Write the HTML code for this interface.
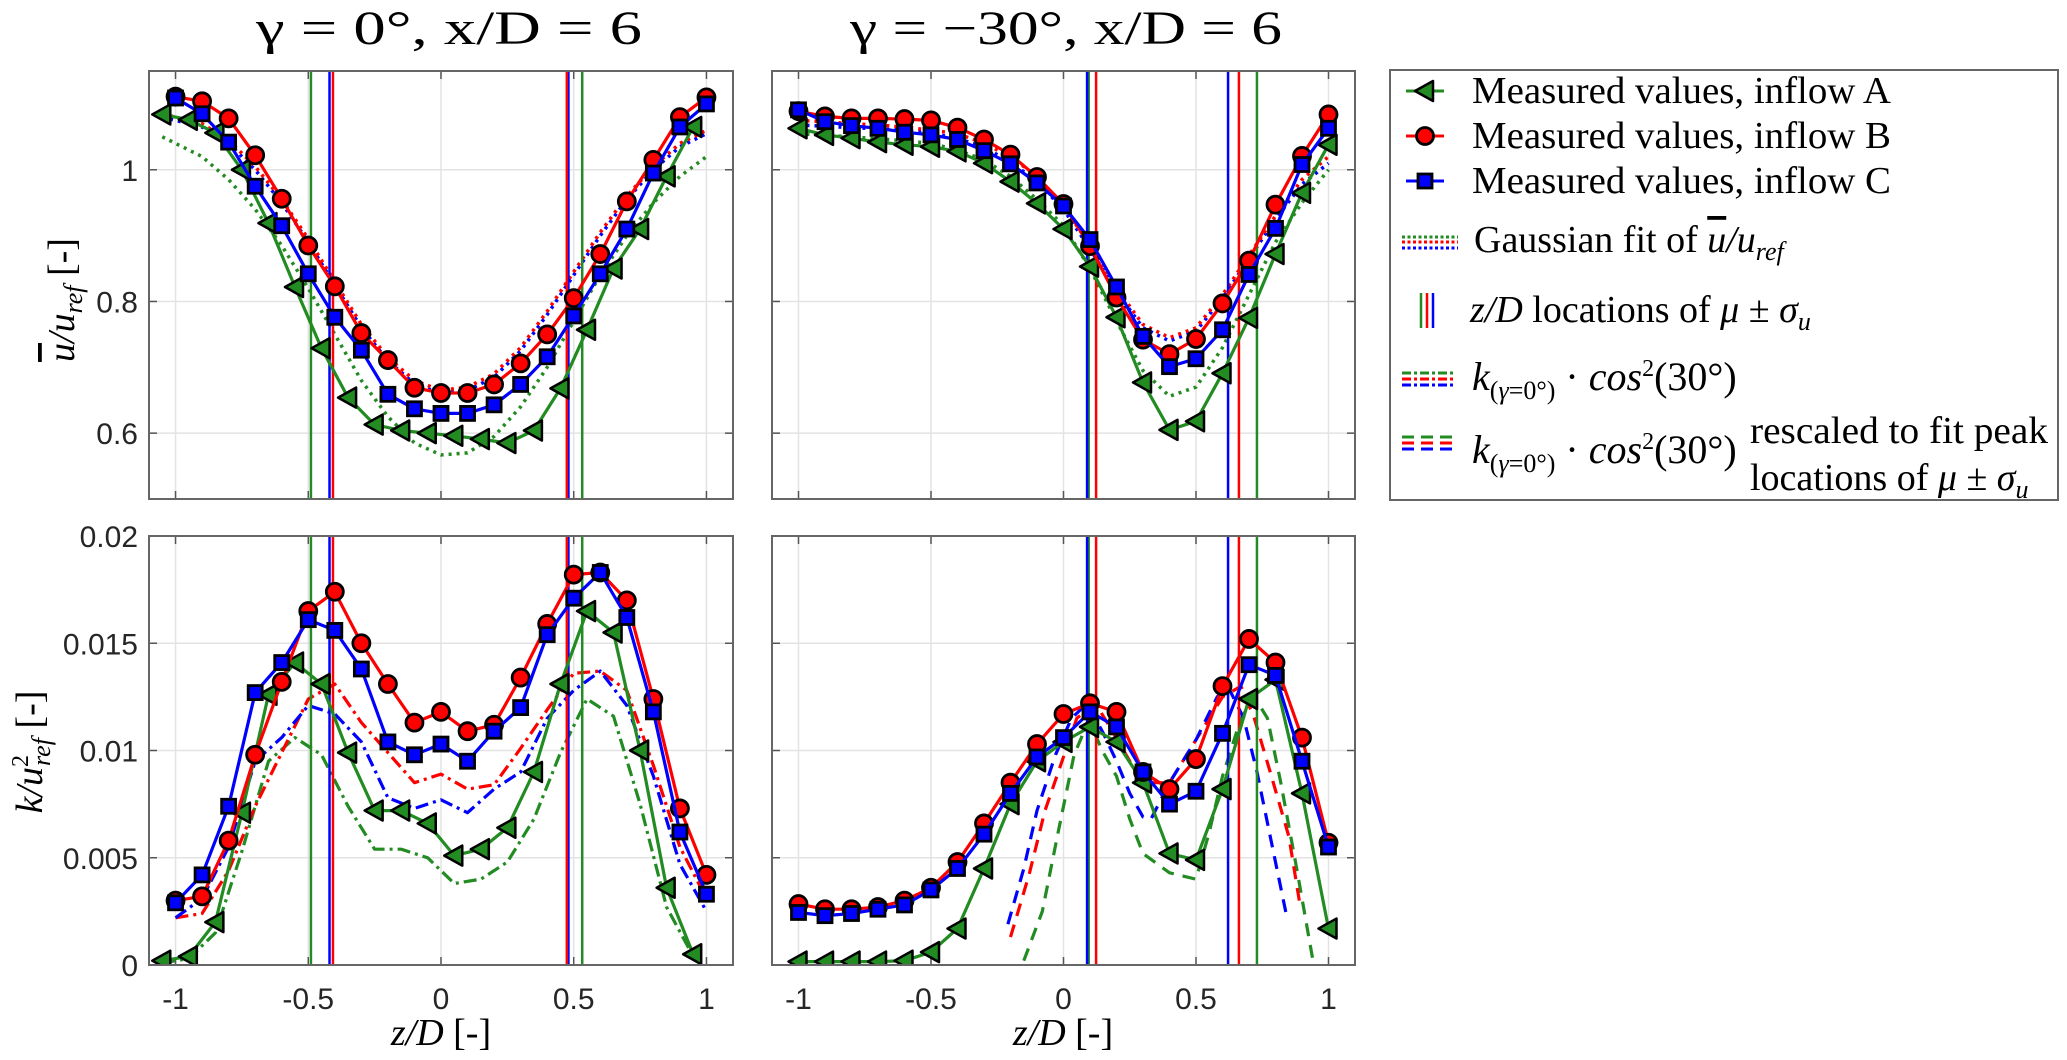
<!DOCTYPE html>
<html><head><meta charset="utf-8">
<style>
html,body{margin:0;padding:0;background:#fff;}
svg{display:block;}
.tick{font-family:"Liberation Sans",sans-serif;font-size:30px;fill:#262626;}
.ser{font-family:"Liberation Serif",serif;fill:#000;}
</style></head>
<body>
<svg id="fig" width="2067" height="1060" viewBox="0 0 2067 1060" xmlns="http://www.w3.org/2000/svg">
<text class="ser" x="449" y="44" font-size="48" text-anchor="middle" textLength="386" lengthAdjust="spacingAndGlyphs">γ = 0°,  x/D = 6</text>
<text class="ser" x="1066" y="44" font-size="48" text-anchor="middle" textLength="432" lengthAdjust="spacingAndGlyphs">γ = −30°,  x/D = 6</text>
<text class="ser" transform="translate(74,300) rotate(-90)" font-size="38" text-anchor="middle"><tspan font-style="italic" text-decoration="overline">u</tspan><tspan font-style="italic">/u</tspan><tspan font-style="italic" font-size="26" dy="8">ref</tspan><tspan dy="-8"> [-]</tspan></text>
<text class="ser" transform="translate(42,752) rotate(-90)" font-size="38" text-anchor="middle"><tspan font-style="italic">k/u</tspan><tspan font-size="24" dy="-14">2</tspan><tspan font-style="italic" font-size="26" dx="-11" dy="22">ref</tspan><tspan dy="-8"> [-]</tspan></text>
<text class="ser" x="441" y="1045" font-size="38" text-anchor="middle"><tspan font-style="italic">z/D</tspan> [-]</text>
<text class="ser" x="1063" y="1045" font-size="38" text-anchor="middle"><tspan font-style="italic">z/D</tspan> [-]</text>
<g id="legend"></g>
</svg>
<script>
// ---------- data ----------
const zB = [-1,-0.9,-0.8,-0.7,-0.6,-0.5,-0.4,-0.3,-0.2,-0.1,0,0.1,0.2,0.3,0.4,0.5,0.6,0.7,0.8,0.9,1];
const zA0 = [-1.05,-0.95,-0.85,-0.75,-0.65,-0.55,-0.45,-0.35,-0.25,-0.15,-0.05,0.05,0.15,0.25,0.35,0.45,0.55,0.65,0.75,0.85,0.95];
// top-left u
const uA0 = [1.084,1.076,1.056,1.0,0.919,0.822,0.729,0.654,0.613,0.604,0.6,0.596,0.591,0.585,0.604,0.668,0.757,0.85,0.91,0.99,1.065];
const uB0 = [1.111,1.104,1.078,1.022,0.956,0.885,0.823,0.752,0.711,0.669,0.661,0.661,0.674,0.706,0.75,0.805,0.872,0.952,1.015,1.08,1.11];
const uC0 = [1.109,1.085,1.042,0.975,0.915,0.842,0.776,0.726,0.659,0.637,0.63,0.63,0.643,0.674,0.716,0.778,0.842,0.91,0.995,1.065,1.1];
const zFitG0 = [-1.05,-0.9,-0.8,-0.7,-0.6,-0.5,-0.4,-0.3,-0.2,-0.1,0,0.1,0.2,0.3,0.4,0.5,0.6,0.7,0.8,0.9,1.0];
const fitA0 = [1.05,1.02,0.985,0.94,0.885,0.82,0.75,0.68,0.625,0.585,0.567,0.57,0.595,0.64,0.7,0.77,0.84,0.9,0.95,0.99,1.02];
const fitB0 = [1.085,1.07,1.045,1.005,0.955,0.895,0.83,0.765,0.715,0.68,0.665,0.67,0.69,0.73,0.785,0.845,0.905,0.96,1.005,1.04,1.06];
const fitC0 = [1.08,1.065,1.04,1.0,0.95,0.89,0.825,0.76,0.71,0.675,0.66,0.665,0.685,0.725,0.78,0.84,0.9,0.955,1.0,1.035,1.055];
// top-right u
const uA30 = [1.063,1.053,1.048,1.042,1.038,1.035,1.028,1.01,0.982,0.949,0.91,0.853,0.776,0.677,0.605,0.618,0.691,0.775,0.872,0.965,1.038];
const uB30 = [1.089,1.081,1.078,1.078,1.077,1.075,1.064,1.046,1.023,0.989,0.948,0.884,0.806,0.742,0.72,0.743,0.797,0.862,0.947,1.021,1.084];
const uC30 = [1.091,1.073,1.067,1.063,1.057,1.053,1.046,1.029,1.009,0.98,0.945,0.894,0.822,0.747,0.701,0.713,0.757,0.841,0.911,1.008,1.063];
const fitA30 = [1.055,1.052,1.05,1.047,1.044,1.04,1.03,1.015,0.99,0.955,0.915,0.85,0.77,0.695,0.656,0.67,0.73,0.81,0.89,0.95,1.0];
const fitB30 = [1.075,1.073,1.07,1.068,1.065,1.06,1.055,1.04,1.02,0.99,0.945,0.885,0.82,0.765,0.745,0.76,0.81,0.87,0.93,0.985,1.02];
const fitC30 = [1.068,1.066,1.064,1.062,1.06,1.055,1.048,1.034,1.012,0.982,0.94,0.88,0.815,0.76,0.74,0.755,0.805,0.865,0.925,0.978,1.01];
// bottom-left k
const kA0 = [0.0002,0.0004,0.002,0.0071,0.0126,0.0141,0.0131,0.0099,0.0072,0.0072,0.0066,0.0051,0.0054,0.0064,0.009,0.0131,0.0165,0.0155,0.0100,0.0036,0.0005];
const kB0 = [0.003,0.0032,0.0058,0.0098,0.0132,0.0165,0.0174,0.015,0.0131,0.0113,0.0118,0.0109,0.0112,0.0134,0.0159,0.0182,0.0183,0.017,0.0124,0.0073,0.0042];
const kC0 = [0.0029,0.0042,0.0074,0.0127,0.0141,0.0161,0.0156,0.0138,0.0104,0.0098,0.0103,0.0095,0.0109,0.012,0.0154,0.0171,0.0183,0.0162,0.0118,0.0062,0.0033];
const kcosA0 = [0.0001,0.0003,0.0015,0.0053,0.0095,0.0106,0.0098,0.0074,0.0054,0.0054,0.005,0.0038,0.004,0.0048,0.0068,0.0099,0.0124,0.0116,0.0075,0.0027,0.0004];
const kcosB0 = [0.0022,0.0024,0.0044,0.0074,0.0099,0.0124,0.0131,0.0113,0.0099,0.0085,0.0089,0.0082,0.0084,0.0101,0.0119,0.0136,0.0137,0.0128,0.0093,0.0055,0.0031];
const kcosC0 = [0.0022,0.0031,0.0055,0.0095,0.0106,0.0121,0.0117,0.0104,0.0078,0.0073,0.0077,0.0071,0.0082,0.009,0.0115,0.0128,0.0137,0.0121,0.0088,0.0047,0.0025];
// bottom-right k
const kA30 = [0.00016,0.00016,0.00016,0.00016,0.0002,0.0006,0.0017,0.0045,0.0075,0.0095,0.0104,0.0111,0.0104,0.0085,0.0052,0.0049,0.0082,0.0124,0.0133,0.008,0.0017];
const kB30 = [0.00284,0.0026,0.0026,0.0027,0.003,0.0036,0.0048,0.0066,0.0085,0.0103,0.0117,0.0122,0.0118,0.009,0.0082,0.0096,0.013,0.0152,0.0141,0.0106,0.0057];
const kC30 = [0.00245,0.0023,0.0024,0.0026,0.0028,0.0035,0.0045,0.0061,0.008,0.0097,0.0106,0.0118,0.0111,0.009,0.0075,0.0081,0.0108,0.014,0.0135,0.0095,0.0055];
const zRsA = [-0.15,-0.08,-0.02,0.04,0.095,0.15,0.2,0.25,0.3,0.4,0.5,0.55,0.6,0.67,0.72,0.77,0.82,0.88,0.94];
const rsA = [0.0002,0.0025,0.0062,0.0098,0.0114,0.0099,0.0088,0.0068,0.0052,0.0043,0.004,0.0062,0.0088,0.0115,0.0125,0.0115,0.0085,0.0045,0.0003];
const zRsB = [-0.2,-0.13,-0.07,0.0,0.05,0.12,0.18,0.25,0.3,0.4,0.5,0.6,0.67,0.72,0.78,0.85,0.89];
const rsB = [0.0013,0.0042,0.0072,0.0097,0.0115,0.0122,0.011,0.0095,0.0085,0.0085,0.0105,0.0125,0.013,0.0115,0.009,0.006,0.003];
const zRsC = [-0.21,-0.15,-0.1,-0.03,0.03,0.09,0.15,0.2,0.25,0.3,0.33,0.4,0.5,0.58,0.62,0.68,0.73,0.78,0.84];
const rsC = [0.0019,0.0045,0.0072,0.0098,0.0115,0.0122,0.0108,0.0095,0.008,0.0069,0.0068,0.0085,0.0105,0.0125,0.013,0.0115,0.009,0.006,0.0024];
// mu +- sigma locations
const vlines0 = {A:[-0.49,0.532], B:[-0.407,0.474], C:[-0.42,0.48]};
const vlines30 = {A:[0.095,0.73], B:[0.123,0.662], C:[0.089,0.621]};
const xTicks = [-1,-0.5,0,0.5,1];
const xTickLabels = ['-1','-0.5','0','0.5','1'];
const uTicks = [0.6,0.8,1];
const uTickLabels = ['0.6','0.8','1'];
const kTicks = [0,0.005,0.01,0.015,0.02];
const kTickLabels = ['0','0.005','0.01','0.015','0.02'];

const COL = {A:'#228b22', B:'#ff0000', C:'#0000ff'};
const NS = 'http://www.w3.org/2000/svg';
const svg = document.getElementById('fig');
function mk(tag, attrs, parent){ const e=document.createElementNS(NS,tag); for(const k in attrs) e.setAttribute(k,attrs[k]); (parent||svg).appendChild(e); return e; }

function panel(name, x0, x1, y0, y1, ymin, ymax, yTicks, yLabels, showY, showX){
  const g = mk('g',{});
  
  
  const sx = v => x0 + (v + 1.1) / 2.2 * (x1 - x0);
  const sy = v => y1 - (v - ymin) / (ymax - ymin) * (y1 - y0);
  const grid = mk('g',{},g);
  
  
  xTicks.forEach((t,i)=>{
    mk('line',{x1:sx(t),x2:sx(t),y1:y0,y2:y1,stroke:'#e3e3e3','stroke-width':1.5},grid);
    mk('line',{x1:sx(t),x2:sx(t),y1:y1,y2:y1-8,stroke:'#555','stroke-width':1.5},grid);
    mk('line',{x1:sx(t),x2:sx(t),y1:y0,y2:y0+8,stroke:'#555','stroke-width':1.5},grid);
    if(showX){ const t2=mk('text',{x:sx(t),y:y1+44,'text-anchor':'middle',class:'tick'},g); t2.textContent=xTickLabels[i];
        }
  });
  yTicks.forEach((t,i)=>{
    mk('line',{x1:x0,x2:x1,y1:sy(t),y2:sy(t),stroke:'#e3e3e3','stroke-width':1.5},grid);
    mk('line',{x1:x0,x2:x0+8,y1:sy(t),y2:sy(t),stroke:'#555','stroke-width':1.5},grid);
    mk('line',{x1:x1,x2:x1-8,y1:sy(t),y2:sy(t),stroke:'#555','stroke-width':1.5},grid);
    if(showY){ const t2=mk('text',{x:x0-11,y:sy(t)+11,'text-anchor':'end',class:'tick'},g); t2.textContent=yLabels[i];
        }
  });
  const clip = 'clip'+name;
  const cp = mk('clipPath',{id:clip},g); mk('rect',{x:x0,y:y0,width:x1-x0,height:y1-y0},cp);
  const plot = mk('g',{'clip-path':'url(#'+clip+')'},g);
  return {g, plot, sx, sy, x0, x1, y0, y1};
}

function line(P, xs, ys, col, dash, name, w){
  const d = xs.map((x,i)=>(i?'L':'M')+P.sx(x).toFixed(1)+' '+P.sy(ys[i]).toFixed(1)).join(' ');
  const p = mk('path',{d, fill:'none', stroke:col, 'stroke-width':w||3.2, 'stroke-dasharray':dash||'none','stroke-linejoin':'round'},P.plot);
  
  
}
function marker(parent, type, cx, cy, col){
  let e;
  if(type==='A') e = mk('path',{d:`M${cx-10} ${cy} L${cx+8} ${cy-10} L${cx+8} ${cy+10} Z`, fill:col, stroke:'#000','stroke-width':2.5,'stroke-linejoin':'round'},parent);
  else if(type==='B') e = mk('circle',{cx,cy,r:8.5,fill:col,stroke:'#000','stroke-width':2.8},parent);
  else e = mk('rect',{x:cx-7,y:cy-7,width:14,height:14,fill:col,stroke:'#000','stroke-width':2.8},parent);
  return e;
}
function series(P, xs, ys, key, name){
  line(P, xs, ys, COL[key], null, name+'-line');
  const g = mk('g',{},P.plot);
  
  
  xs.forEach((x,i)=>{ const m = marker(g, key, P.sx(x), P.sy(ys[i]), COL[key]);
      });
}
function vl(P, v, key, name){
  v.forEach(x=>{ const l = mk('line',{x1:P.sx(x),x2:P.sx(x),y1:P.y0,y2:P.y1,stroke:COL[key],'stroke-width':2.5},P.plot);
      });
}
function frame(P){ mk('rect',{x:P.x0,y:P.y0,width:P.x1-P.x0,height:P.y1-P.y0,fill:'none',stroke:'#666','stroke-width':2},P.g); }

const DOT='3 5', DD='13 5 3 5', DASH='13 9';
// top-left
let P = panel('panel-u-gamma0',149,733,71,499,0.5,1.15,uTicks,uTickLabels,true,false);
line(P,zFitG0,fitA0,COL.A,DOT,'gauss-fit-a',3.5);
line(P,zFitG0,fitC0,COL.C,DOT,'gauss-fit-c',3.5);
line(P,zFitG0,fitB0,COL.B,DOT,'gauss-fit-b',3.5);
vl(P,vlines0.A,'A','mu-sigma-a'); vl(P,vlines0.C,'C','mu-sigma-c'); vl(P,vlines0.B,'B','mu-sigma-b');
series(P,zA0,uA0,'A','inflow-a'); series(P,zB,uB0,'B','inflow-b'); series(P,zB,uC0,'C','inflow-c');
frame(P);
// top-right
P = panel('panel-u-gamma30',772,1355,71,499,0.5,1.15,uTicks,uTickLabels,false,false);
line(P,zB,fitA30,COL.A,DOT,'gauss-fit-a',3.5);
line(P,zB,fitC30,COL.C,DOT,'gauss-fit-c',3.5);
line(P,zB,fitB30,COL.B,DOT,'gauss-fit-b',3.5);
vl(P,vlines30.A,'A','mu-sigma-a'); vl(P,vlines30.C,'C','mu-sigma-c'); vl(P,vlines30.B,'B','mu-sigma-b');
series(P,zB,uA30,'A','inflow-a'); series(P,zB,uB30,'B','inflow-b'); series(P,zB,uC30,'C','inflow-c');
frame(P);
// bottom-left
P = panel('panel-k-gamma0',149,733,536,965,0,0.02,kTicks,kTickLabels,true,true);
line(P,zA0,kcosA0,COL.A,DD,'kcos-a'); line(P,zB,kcosB0,COL.B,DD,'kcos-b'); line(P,zB,kcosC0,COL.C,DD,'kcos-c');
vl(P,vlines0.A,'A','mu-sigma-a'); vl(P,vlines0.C,'C','mu-sigma-c'); vl(P,vlines0.B,'B','mu-sigma-b');
series(P,zA0,kA0,'A','inflow-a'); series(P,zB,kB0,'B','inflow-b'); series(P,zB,kC0,'C','inflow-c');
frame(P);
// bottom-right
P = panel('panel-k-gamma30',772,1355,536,965,0,0.02,kTicks,kTickLabels,false,true);
line(P,zRsA,rsA,COL.A,DASH,'rescaled-a'); line(P,zRsB,rsB,COL.B,DASH,'rescaled-b'); line(P,zRsC,rsC,COL.C,DASH,'rescaled-c');
vl(P,vlines30.A,'A','mu-sigma-a'); vl(P,vlines30.C,'C','mu-sigma-c'); vl(P,vlines30.B,'B','mu-sigma-b');
series(P,zB,kA30,'A','inflow-a'); series(P,zB,kB30,'B','inflow-b'); series(P,zB,kC30,'C','inflow-c');
frame(P);

// ---------- legend ----------
const L = document.getElementById('legend');
mk('rect',{x:1390,y:70,width:668,height:430,fill:'#fff',stroke:'#666','stroke-width':2},L);
function ltext(x,y,html,name,size,len){ const t=mk('text',{x,y,class:'ser','font-size':size||38},L); t.innerHTML=html;
  if(len){ t.setAttribute('textLength',len); t.setAttribute('lengthAdjust','spacingAndGlyphs'); }
    return t; }
[['A',103,'Measured values, inflow A'],['B',148,'Measured values, inflow B'],['C',193,'Measured values, inflow C']].forEach(r=>{
  mk('line',{x1:1406,x2:1444,y1:r[1]-12,y2:r[1]-12,stroke:COL[r[0]],'stroke-width':3},L);
  marker(L,r[0],1425,r[1]-12,COL[r[0]]);
  ltext(1472,r[1],r[2],'legend-entry-inflow-'+r[0].toLowerCase(),38,419);
});
[['A',237],['B',242],['C',248]].forEach(r=> mk('line',{x1:1402,x2:1458,y1:r[1],y2:r[1],stroke:COL[r[0]],'stroke-width':3,'stroke-dasharray':'3 2.5'},L));
ltext(1474,252,'Gaussian fit of <tspan font-style="italic" text-decoration="overline">u</tspan><tspan font-style="italic">/u</tspan><tspan font-style="italic" font-size="26" dy="8">ref</tspan>','legend-entry-gaussian-fit');
[['A',1421],['B',1427],['C',1433]].forEach(r=> mk('line',{x1:r[1],x2:r[1],y1:293,y2:328,stroke:COL[r[0]],'stroke-width':2.5},L));
ltext(1470,322,'<tspan font-style="italic">z/D</tspan> locations of <tspan font-style="italic">μ</tspan> ± <tspan font-style="italic">σ</tspan><tspan font-style="italic" font-size="26" dy="8">u</tspan>','legend-entry-mu-sigma');
[['A',373],['B',379],['C',385]].forEach(r=> mk('line',{x1:1402,x2:1454,y1:r[1],y2:r[1],stroke:COL[r[0]],'stroke-width':3,'stroke-dasharray':'9 3 3 3'},L));
const kc = '<tspan font-style="italic">k</tspan><tspan font-size="26" dy="9">(<tspan font-style="italic">γ</tspan>=0°)</tspan><tspan dy="-9"> · </tspan><tspan font-style="italic">cos</tspan><tspan font-size="24" dy="-14">2</tspan><tspan dy="14">(30°)</tspan>';
ltext(1472,390,kc,'legend-entry-kcos',40);
[['A',437],['B',443],['C',449]].forEach(r=> mk('line',{x1:1402,x2:1458,y1:r[1],y2:r[1],stroke:COL[r[0]],'stroke-width':3,'stroke-dasharray':'12 7'},L));
ltext(1472,463,kc,'legend-entry-kcos-rescaled',40);
ltext(1750,443,'rescaled to fit peak','legend-entry-rescaled-line1',38,298);
ltext(1750,490,'locations of <tspan font-style="italic">μ</tspan> ± <tspan font-style="italic">σ</tspan><tspan font-style="italic" font-size="26" dy="8">u</tspan>','legend-entry-rescaled-line2',38);
</script>
</body></html>
